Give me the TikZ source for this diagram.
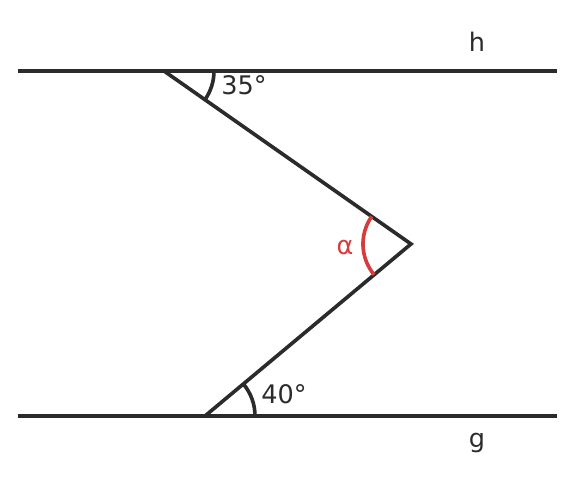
\documentclass[tikz,border=0pt]{standalone}
\usepackage{fontspec}
\setmainfont{DejaVu Sans}
\usepackage{xcolor}
\usetikzlibrary{angles}

\definecolor{linegray}{RGB}{43,43,43}
\definecolor{alphared}{RGB}{214,60,60}

\begin{document}
\begin{tikzpicture}[
        x=0.03cm, y=-0.03cm,
        gline/.style={draw=linegray, line width=3.1pt},
        anglearc/.style={draw=linegray, line width=3.1pt, angle radius=1.5cm},
        alphaarc/.style={draw=alphared, line width=3.1pt, angle radius=1.44cm},
        lbl/.style={text=linegray, font=\fontsize{21.8}{24}\selectfont, inner sep=0pt, anchor=base},
    ]
    \useasboundingbox (0,0) rectangle (576,489);

    % ---------- Punkte ----------
    \coordinate (hL) at (18,71);
    \coordinate (hR) at (557,71);
    \coordinate (gL) at (18,416);
    \coordinate (gR) at (557,416);
    \coordinate (T) at (164,71);
    \coordinate (A) at (411,244);
    \coordinate (B) at (205,416);

    % ---------- Parallelen ----------
    \draw[gline] (hL) -- (hR);
    \draw[gline] (gL) -- (gR);

    % ---------- Zickzack ----------
    \draw[gline, line join=miter] (T) -- (A) -- (B);

    % ---------- Winkel ----------
    \pic[anglearc] {angle = A--T--hR};
    \pic[anglearc] {angle = gR--B--A};
    \pic[alphaarc] {angle = T--A--B};

    % ---------- Beschriftung ----------
    \node[lbl] (l35) at (244,95) {35°};
    \node[lbl] (l40) at (284,403.5) {40°};
    \node[lbl, text=alphared] (lalpha) at (345,255) {α};
    \node[lbl] (lh) at (477,51.5) {h};
    \node[lbl] (lg) at (477,447.5) {g};

\end{tikzpicture}
\end{document}
